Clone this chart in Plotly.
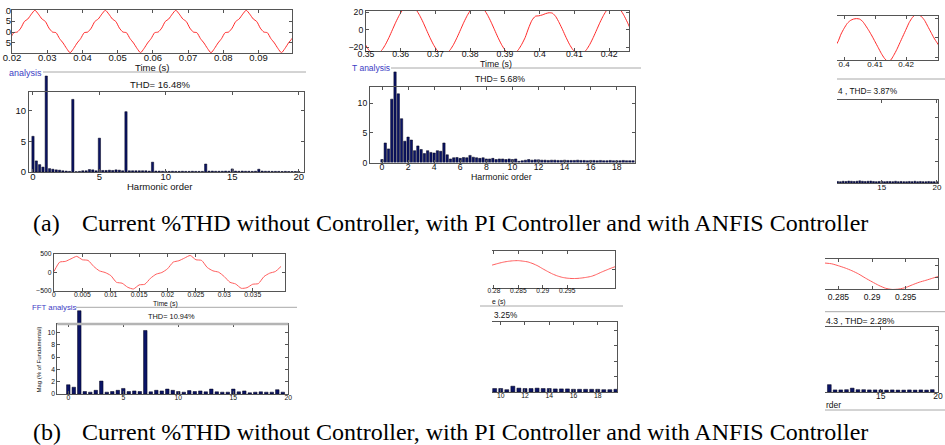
import plotly.graph_objects as go

# ======================= DATA =======================
# (a) row: current waveforms (time start, step, values)
a1_wave_t0, a1_wave_dt = 0.0195, 0.001
a1_wave = [
    -3.0, -0.3, 0.0, 1.8, 4.8, 6.0, 8.2, 10.0, 8.2, 6.0, 4.8, 1.8, 0.0, -0.3, -3.0, -5.0, -7.5, -9.5, -7.5, -5.0,
    -3.0, -0.3, 0.0, 1.8, 4.8, 6.0, 8.2, 10.0, 8.2, 6.0, 4.8, 1.8, 0.0, -0.3, -3.0, -5.0, -7.5, -9.5, -7.5, -5.0,
    -3.0, -0.3, 0.0, 1.8, 4.8, 6.0, 8.2, 10.0, 8.2, 6.0, 4.8, 1.8, 0.0, -0.3, -3.0, -5.0, -7.5, -9.5, -7.5, -5.0,
    -3.0, -0.3, 0.0, 1.8, 4.8, 6.0, 8.2, 10.0, 8.2, 6.0, 4.8, 1.8, 0.0, -0.3, -3.0, -5.0, -7.5, -9.5, -7.5, -5.0,
    -3.0, -0.3]
a2_wave_t0, a2_wave_dt = 0.3478, 0.00098
a2_wave = [
    0, -8.7, -16.5, -22.7, -26.6, -28, -26.6, -22.7, -16.5, -8.7, 0, 8.7, 16.5, 22.7, 26.6, 28, 26.6, 22.7, 16.5, 8.7,
    0, -8.7, -16.5, -22.7, -26.6, -28, -26.6, -22.7, -16.5, -8.7, 0, 8.7, 16.5, 22.7, 26.6, 28, 26.6, 22.7, 16.5, 8.7,
    0, -8.7, -16.5, -22.7, -26.6, -28, -26.6, -22.7, -16.5, -8.7, 2, 11, 15.5, 16, 17, 18.5, 19.5, 19, 15, 8,
    0, -8.7, -16.5, -22.7, -26.6, -28, -26.6, -22.7, -16.5, -8.7, 0, 8.7, 16.5, 22.7, 26.6, 28, 26.6, 22.7, 16.5, 8.7,
    0]
a3_wave_t0, a3_wave_dt = 0.397, 0.001
a3_wave = [-9, -4, 4, 10, 15, 18, 19.5, 20, 19.5, 17, 12.5, 7.5, 2, -4, -10, -16, -21, -24, -23, -18,
           -12, -5, 2, 9, 16, 21, 24, 24, 22, 18, 12, 6, 0, -5, -10]

# (a) row: harmonic spectra (% of fundamental), order start & step
a1_h0, a1_dh = 0.0, 0.25
a1_mag = [5.8, 1.8, 1.2, 0.8, 15.6, 0.55, 0.45, 0.35, 0.3, 0.2, 0.15, 0.1, 11.8, 0.05, 0.1, 0.2,
          0.2, 0.4, 0.35, 0.2, 5.5, 0.25, 0.25, 0.3, 0.25, 0.35, 0.3, 0.2, 9.8, 0.2, 0.2, 0.2,
          0.2, 0.2, 0.2, 0.15, 1.6, 0.15, 0.15, 0.12, 0.12, 0.1, 0.12, 0.1, 0.1, 0.12, 0.1, 0.1,
          0.12, 0.1, 0.1, 0.1, 1.3, 0.15, 0.15, 0.12, 0.12, 0.12, 0.15, 0.12, 0.5, 0.15, 0.12, 0.15,
          0.12, 0.12, 0.1, 0.12, 0.45, 0.15, 0.12, 0.12, 0.1, 0.1, 0.1, 0.08, 0.1, 0.08, 0.08, 0.08, 0.08]
a2_h0, a2_dh = 0.0, 0.25
a2_mag = [0.5, 3.3, 2.3, 10.7, 15.3, 11.6, 7.4, 3.6, 4.3, 3.8, 2.0, 2.8, 2.2, 1.5, 2.0, 1.7,
          1.6, 2.0, 1.9, 3.3, 1.3, 0.6, 0.8, 0.85, 0.7, 0.85, 0.8, 1.2, 0.9, 0.8, 0.7, 0.8,
          0.6, 0.6, 0.7, 0.5, 0.6, 0.6, 0.5, 0.6, 0.5, 0.6, 0.2, 0.3, 0.4, 0.5, 0.4, 0.45,
          0.45, 0.4, 0.4, 0.35, 0.4, 0.4, 0.35, 0.35, 0.4, 0.35, 0.35, 0.35, 0.4, 0.35, 0.35, 0.3,
          0.35, 0.35, 0.3, 0.35, 0.3, 0.3, 0.35, 0.3, 0.3, 0.3, 0.35, 0.3, 0.3, 0.3]
a3_h0, a3_dh = 11.0, 0.25
a3_mag = [0.35, 0.3, 0.4, 0.35, 0.45, 0.4, 0.35, 0.4, 0.5, 0.4, 0.35, 0.4, 0.45, 0.35, 0.3, 0.35,
          0.4, 0.3, 0.35, 0.35, 0.3, 0.4, 0.3, 0.35, 0.3, 0.3, 0.35, 0.3, 0.4, 0.3, 0.35, 0.3,
          0.3, 0.35, 0.3, 0.3, 0.3]

# (b) row
b1_wave_t0, b1_wave_dt = 0.0, 0.001
b1_wave = [27, 280, 300, 370, 436, 345, 327, 164, 45, 0, -82, -264, -290, -400, -445, -336, -318, -155, -45, 0,
           100, 280, 318, 390, 460, 345, 327, 136, 45, 9, -110, -264, -310, -427, -410, -318, -300, -110, -18, 27,
           164]
b2_wave_t0, b2_wave_dt = 0.279, 0.001
b2_wave = [0.40, 0.55, 0.70, 0.83, 0.92, 0.98, 0.99, 0.93, 0.84, 0.65, 0.40, 0.08, -0.22, -0.50, -0.72,
           -0.88, -0.97, -1.01, -1.00, -0.95, -0.87, -0.76, -0.55, -0.30, -0.07, 0.15, 0.35]
b3_wave_t0, b3_wave_dt = 0.283, 0.001
b3_wave = [0.73, 0.68, 0.55, 0.40, 0.22, 0.0, -0.27, -0.52, -0.76, -0.95, -1.03, -1.0, -0.9, -0.72,
           -0.55, -0.42, -0.28, -0.14]

b1_h0, b1_dh = 0.0, 0.5
b1_mag = [1.5, 1.1, 13.5, 0.4, 0.3, 0.6, 2.1, 0.3, 0.4, 0.6, 0.9, 0.4, 0.5, 0.4, 10.3, 0.35, 0.6, 0.5, 0.8, 0.6,
          0.4, 0.3, 0.55, 0.4, 0.5, 0.35, 0.8, 0.35, 0.3, 0.3, 0.8, 0.35, 0.5, 0.2, 0.3, 0.35, 0.3, 0.3, 0.7, 0.3]
b2_h0, b2_dh = 9.5, 0.5
b2_mag = [0.45, 0.45, 0.3, 0.75, 0.5, 0.45, 0.45, 0.5, 0.45, 0.45, 0.4, 0.4, 0.4, 0.35, 0.35, 0.35, 0.35,
          0.35, 0.3, 0.3, 0.35]
b3_h0, b3_dh = 10.5, 0.5
b3_mag = [0.95, 0.27, 0.27, 0.3, 0.5, 0.3, 0.3, 0.27, 0.27, 0.27, 0.25, 0.27, 0.25, 0.25, 0.27, 0.25, 0.27,
          0.25, 0.3]

# tick values
a1_time_ticks = [0.02, 0.03, 0.04, 0.05, 0.06, 0.07, 0.08, 0.09]
a2_time_ticks = [0.35, 0.36, 0.37, 0.38, 0.39, 0.4, 0.41, 0.42]
a3_time_ticks = [0.4, 0.41, 0.42]
b1_time_ticks = [0, 0.005, 0.01, 0.015, 0.02, 0.025, 0.03, 0.035]
b2_time_ticks = [0.28, 0.285, 0.29, 0.295]
b3_time_ticks = [0.285, 0.29, 0.295]
a1_order_ticks = [0, 5, 10, 15, 20]
a2_order_ticks = [0, 2, 4, 6, 8, 10, 12, 14, 16, 18]
a3_order_ticks = [15, 20]
b1_order_ticks = [0, 5, 10, 15, 20]
b2_order_ticks = [10, 12, 14, 16, 18]
b3_order_ticks = [15, 20]

thd_labels = ["THD= 16.48%", "THD= 5.68%", "4 , THD= 3.87%", "THD= 10.94%", "3.25%", "4.3 , THD= 2.28%"]
caption_text = "Current %THD without Controller, with PI Controller and with ANFIS Controller"

# ======================= LAYOUT HELPERS =======================
FW, FH = 945, 445
RED = "#ff2a2a"
RED2 = "#ff5c5c"
NAVY = "#0b1466"
FRAME = "#555555"
BLUE = "#3d3dc4"
SANS = "Liberation Sans, Arial, sans-serif"
SERIF = "Liberation Serif, Times New Roman, serif"

fig = go.Figure()
layout = {}
annotations = []
shapes = []
count = [0]


def ref(p, i):
    return p if i == 1 else f"{p}{i}"


def new_axes(box, xr, yr, xt=None, yt=None, fs=9, frame=True, yside="left", ylabels=True, xso=-4, yso=0):
    count[0] += 1
    i = count[0]
    l, t, r, b = box
    xa = dict(domain=[l / FW, r / FW], range=xr, anchor=ref("y", i), fixedrange=True, automargin=False)
    ya = dict(domain=[1 - b / FH, 1 - t / FH], range=yr, anchor=ref("x", i), fixedrange=True, automargin=False)
    if not frame:
        xa["visible"] = False
        ya["visible"] = False
    else:
        common = dict(showline=True, linecolor=FRAME, linewidth=1, ticks="inside", ticklen=3,
                      tickcolor=FRAME, tickwidth=1, showgrid=False, zeroline=False,
                      tickfont=dict(family=SANS, size=fs, color="#111"))
        xa.update(common)
        ya.update(common)
        xa["mirror"] = "allticks"
        xa["ticklabelstandoff"] = xso
        ya["ticklabelstandoff"] = yso
        if xt is not None:
            xa["tickvals"] = xt
            xa["ticktext"] = [f"{v:g}" for v in xt]
        if yt is not None:
            ya["tickvals"] = yt
        if yside == "right":
            ya["side"] = "right"
            ya["mirror"] = False
            ya["showticklabels"] = False
        else:
            ya["mirror"] = "allticks"
            ya["showticklabels"] = ylabels
    layout[ref("xaxis", i)] = xa
    layout[ref("yaxis", i)] = ya
    return ref("x", i), ref("y", i)


def wave(axes, t0, dt, ys, color=RED):
    fig.add_trace(go.Scatter(x0=t0, dx=dt, y=ys, mode="lines",
                             line=dict(color=color, width=1, shape="spline", smoothing=0.6),
                             xaxis=axes[0], yaxis=axes[1], showlegend=False, hoverinfo="skip"))


def bars(axes, h0, dh, ys, width):
    fig.add_trace(go.Bar(x0=h0, dx=dh, y=ys, width=width,
                         marker=dict(color=NAVY, line=dict(color="#000018", width=0.5)),
                         xaxis=axes[0], yaxis=axes[1], showlegend=False, hoverinfo="skip"))


def empty(axes):
    fig.add_trace(go.Scatter(x=[], y=[], xaxis=axes[0], yaxis=axes[1], showlegend=False))


def text(s, x, y, size, color="#111", xanchor="center", angle=0, family=SANS):
    annotations.append(dict(text=s, x=x / FW, y=1 - y / FH, xref="paper", yref="paper", showarrow=False,
                            font=dict(size=size, color=color, family=family), xanchor=xanchor,
                            yanchor="middle", textangle=angle, borderpad=0))


def hline(x0, x1, y, color="#a8a8a8", w=1):
    shapes.append(dict(type="line", xref="paper", yref="paper", x0=x0 / FW, x1=x1 / FW,
                       y0=1 - y / FH, y1=1 - y / FH, line=dict(color=color, width=w)))


def mask(x0, y0, x1, y1):
    shapes.append(dict(type="rect", xref="paper", yref="paper", x0=x0 / FW, x1=x1 / FW,
                       y0=1 - y1 / FH, y1=1 - y0 / FH, fillcolor="white", line=dict(width=0), layer="above"))


# ======================= (a) ROW =======================
# A1 - without controller
ax = new_axes((12, 10, 292, 53), [0.02, 0.0995], [-9.6, 10.1], a1_time_ticks, [-5, 0, 5, 10], fs=9.5,
              xso=-4, yso=-2)
wave(ax, a1_wave_t0, a1_wave_dt, a1_wave)
mask(0, 4, 5.5, 52)
ax = new_axes((29, 74, 304, 172), [-0.3, 20.4], [0, 15.925], frame=False)
bars(ax, a1_h0, a1_dh, a1_mag, 0.17)
ax = new_axes((29, 92, 304, 172), [-0.3, 20.4], [0, 13], a1_order_ticks, [0, 5, 10], fs=9.5, xso=-4)
empty(ax)
text("Time (s)", 151.5, 68, 9.5)
text("analysis", 8, 72.5, 9, BLUE, "left")
hline(43, 306, 72)
text(thd_labels[0], 160, 84.5, 9.5)
text("Harmonic order", 159.5, 186, 9.5)

# A2 - PI controller
ax = new_axes((366, 11, 629, 51), [0.35, 0.4257], [-24.2, 21.5], a2_time_ticks, [-20, 0, 20], fs=8.7, xso=-5)
wave(ax, a2_wave_t0, a2_wave_dt, a2_wave)
ax = new_axes((370, 70, 635, 162.5), [-0.92, 19.4], [0, 15.62], frame=False)
bars(ax, a2_h0, a2_dh, a2_mag, 0.18)
ax = new_axes((370, 87, 635, 162.5), [-0.92, 19.4], [0, 12.75], a2_order_ticks, [0, 5, 10], fs=8.7, xso=-4)
empty(ax)
text("Time (s)", 496, 63.5, 8.8)
text("T analysis", 351, 67.5, 8.5, BLUE, "left")
hline(391, 641, 68)
text(thd_labels[1], 499.5, 79, 8.7)
text("Harmonic order", 501.5, 176.5, 8.8)

# A3 - ANFIS controller (partially shown)
ax = new_axes((837, 16, 938, 60), [0.3977, 0.4303], [-22.8, 22.7], a3_time_ticks, [-20, 0, 20], fs=8,
              yside="right", xso=-4)
wave(ax, a3_wave_t0, a3_wave_dt, a3_wave)
ax = new_axes((837, 100, 938, 183), [10.94, 20.1], [0, 18.9], a3_order_ticks, [0, 5, 10, 15], fs=8,
              yside="right", xso=-4)
bars(ax, a3_h0, a3_dh, a3_mag, 0.17)
hline(837, 945, 79)
text(thd_labels[2], 837, 91, 8.3, xanchor="left")

# ======================= (b) ROW =======================
# B1 - without controller
ax = new_axes((54, 254, 285, 291), [0, 0.0407], [-500, 500], b1_time_ticks, [-500, 0, 500], fs=6.8, xso=-3)
wave(ax, b1_wave_t0, b1_wave_dt, b1_wave, RED2)
ax = new_axes((57.3, 309, 288.3, 394), [-1, 20], [0, 13.78], frame=False)
bars(ax, b1_h0, b1_dh, b1_mag, 0.32)
ax = new_axes((57.3, 324, 288.3, 394), [-1, 20], [0, 11.35], b1_order_ticks, [0, 2, 4, 6, 8, 10], fs=6.8,
              xso=-3)
empty(ax)
hline(57.3, 288.3, 324, "#b4b4b4", 2.5)
text("Time (s)", 165.5, 304, 6.8)
text("FFT analysis", 30.5, 307, 7.8, BLUE, "left")
hline(76, 297, 307.3)
text(thd_labels[3], 171.5, 316.5, 7.4)
text("Mag (% of Fundamental)", 38.5, 360, 6, angle=-90)

# B2 - PI controller (partially shown)
ax = new_axes((492, 251, 615, 288), [0.2796, 0.3048], [-2.07, 2.07], b2_time_ticks, [0], fs=6.6,
              yside="right", xso=-4)
wave(ax, b2_wave_t0, b2_wave_dt, b2_wave, RED2)
ax = new_axes((492, 322, 617, 392), [9.28, 19.59], [0, 9.05], b2_order_ticks, [0, 2, 4, 6, 8], fs=6.8,
              yside="right", xso=-3)
bars(ax, b2_h0, b2_dh, b2_mag, 0.33)
mask(470, 293, 491.5, 297.5)
text("e (s)", 491, 301.5, 6.8, xanchor="left")
hline(480, 623, 306)
text(thd_labels[4], 492.5, 315.7, 8.2, xanchor="left")

# B3 - ANFIS controller (partially shown)
ax = new_axes((825, 259, 938, 289), [0.283, 0.2998], [-1, 1], b3_time_ticks, [-1, -0.2, 0.6], fs=8.5,
              yside="right", xso=0)
wave(ax, b3_wave_t0, b3_wave_dt, b3_wave, RED2)
ax = new_axes((825, 327, 938, 392), [10.12, 20], [0, 8.4], b3_order_ticks, [0, 2, 4, 6, 8], fs=8.5,
              yside="right", xso=-4)
bars(ax, b3_h0, b3_dh, b3_mag, 0.33)
hline(825, 945, 311.7)
text(thd_labels[5], 825, 321, 8.6, xanchor="left")
text("rder", 825, 404.5, 8.5, xanchor="left")
hline(825, 945, 410)

# ======================= CAPTIONS =======================
text("(a)", 32, 223, 24, "#000", "left", family=SERIF)
text(caption_text, 81, 223, 24, "#000", "left", family=SERIF)
text("(b)", 32, 432, 24, "#000", "left", family=SERIF)
text(caption_text, 81, 432, 24, "#000", "left", family=SERIF)

fig.update_layout(**layout)
fig.update_layout(width=FW, height=FH, margin=dict(l=0, r=0, t=0, b=0, autoexpand=False),
                  paper_bgcolor="white", plot_bgcolor="rgba(0,0,0,0)", annotations=annotations,
                  shapes=shapes, showlegend=False, barmode="overlay", font=dict(family=SANS))
fig.write_html("out.html", config={"displayModeBar": False, "staticPlot": True},
               post_script="document.body.style.margin='0';document.body.style.padding='0';"
                           "document.body.style.overflow='hidden';")
